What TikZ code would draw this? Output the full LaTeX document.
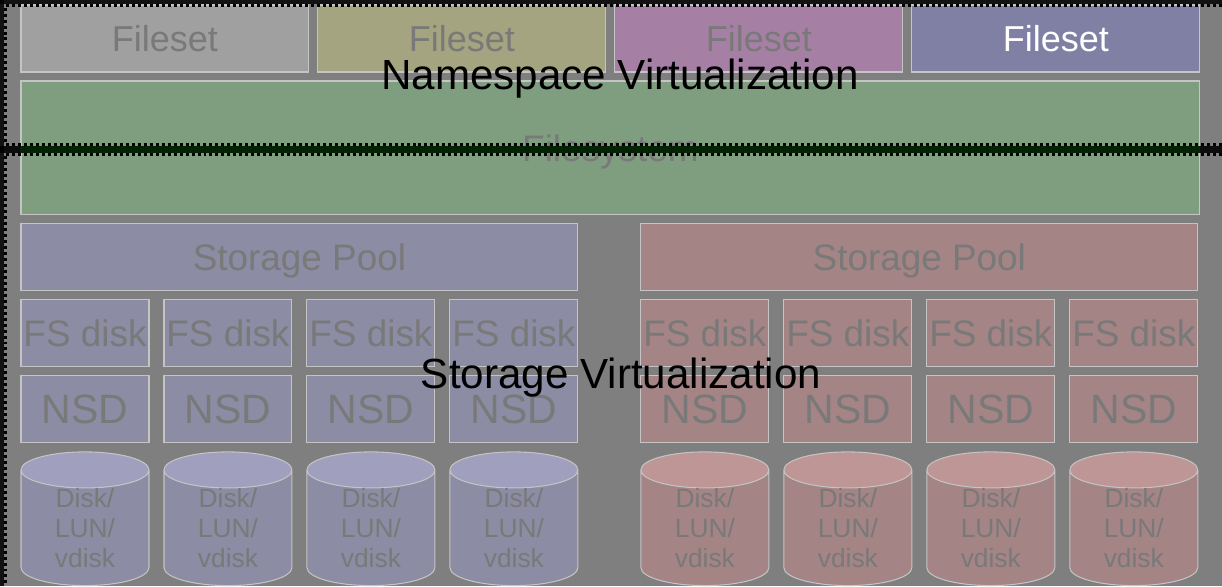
\documentclass[tikz,border=0pt]{standalone}
\usepackage{fontspec}
\setmainfont{Liberation Sans}
\usepackage{xcolor}
\usepackage{tikz}
\usetikzlibrary{shapes.geometric,positioning}

\definecolor{bggray}{RGB}{127,127,127}
\definecolor{ghost}{RGB}{121,121,121}
\definecolor{edgegray}{RGB}{196,196,196}
\definecolor{setgray}{RGB}{160,160,160}
\definecolor{setolive}{RGB}{164,164,128}
\definecolor{setmauve}{RGB}{166,128,164}
\definecolor{setblue}{RGB}{128,128,164}
\definecolor{fsgreen}{RGB}{127,158,127}
\definecolor{poolblue}{RGB}{140,140,164}
\definecolor{poolred}{RGB}{164,132,132}
\definecolor{lunbluetop}{RGB}{160,160,190}
\definecolor{lunredtop}{RGB}{190,150,150}
\definecolor{banddark}{RGB}{0,48,0}

\tikzset{
    box/.style={draw=edgegray, line width=0.6pt, rectangle, inner sep=0pt, outer sep=0pt, text=ghost, text depth=0pt},
    setbox/.style={box, minimum width=5.76cm, minimum height=1.34cm, font=\fontsize{20.5}{24}\selectfont},
    poolbox/.style={box, minimum width=11.14cm, minimum height=1.34cm, font=\fontsize{21}{25}\selectfont},
    fsdbox/.style={box, minimum width=2.56cm, minimum height=1.34cm, font=\fontsize{21}{25}\selectfont},
    nsdbox/.style={box, minimum width=2.56cm, minimum height=1.34cm, font=\fontsize{23.3}{27}\selectfont},
    lunbox/.style={cylinder, shape border rotate=90, aspect=0.6, draw=edgegray, line width=0.6pt,
        inner sep=0pt, outer sep=0pt, minimum width=2.56cm, minimum height=2.66cm, text=ghost,
        cylinder uses custom fill, align=center, font=\fontsize{15}{17}\selectfont},
    layerlabel/.style={anchor=base, inner sep=0pt, font=\fontsize{24}{28}\selectfont},
    frameline/.style={black, line width=1.7pt, dash pattern=on 1.7pt off 1.7pt}
}

\begin{document}
\begin{tikzpicture}[x=0.02cm, y=-0.02cm, node distance=0.18cm]
        \fill[bggray] (0,0) rectangle (1222,586);
        \useasboundingbox (0,0) rectangle (1222,586);

        % Namespace layer
        \node[setbox, fill=setgray, anchor=north west] (set1) at (21,5) {Fileset};
        \node[setbox, fill=setolive, right=of set1] (set2) {Fileset};
        \node[setbox, fill=setmauve, right=of set2] (set3) {Fileset};
        \node[setbox, fill=setblue, text=white, right=of set3] (set4) {Fileset};
        \node[box, fill=fsgreen, minimum width=23.58cm, minimum height=2.68cm, font=\fontsize{21}{25}\selectfont, below=of set1.south west, anchor=north west] (filesystem) {Filesystem};

        % Storage layer, left pool
        \node[poolbox, fill=poolblue, below=of filesystem.south west, anchor=north west] (poolA) {Storage Pool};
        \node[fsdbox, fill=poolblue, below=of poolA.south west, anchor=north west] (fsdA1) {FS disk};
        \node[fsdbox, fill=poolblue, right=0.3cm of fsdA1] (fsdA2) {FS disk};
        \node[fsdbox, fill=poolblue, right=0.3cm of fsdA2] (fsdA3) {FS disk};
        \node[fsdbox, fill=poolblue, right=0.3cm of fsdA3] (fsdA4) {FS disk};
        \node[nsdbox, fill=poolblue, below=of fsdA1] (nsdA1) {NSD};
        \node[nsdbox, fill=poolblue, below=of fsdA2] (nsdA2) {NSD};
        \node[nsdbox, fill=poolblue, below=of fsdA3] (nsdA3) {NSD};
        \node[nsdbox, fill=poolblue, below=of fsdA4] (nsdA4) {NSD};
        \node[lunbox, cylinder end fill=lunbluetop, cylinder body fill=poolblue, below=of nsdA1] (lunA1) {Disk/\\LUN/\\vdisk};
        \node[lunbox, cylinder end fill=lunbluetop, cylinder body fill=poolblue, below=of nsdA2] (lunA2) {Disk/\\LUN/\\vdisk};
        \node[lunbox, cylinder end fill=lunbluetop, cylinder body fill=poolblue, below=of nsdA3] (lunA3) {Disk/\\LUN/\\vdisk};
        \node[lunbox, cylinder end fill=lunbluetop, cylinder body fill=poolblue, below=of nsdA4] (lunA4) {Disk/\\LUN/\\vdisk};

        % Storage layer, right pool
        \node[poolbox, fill=poolred, below=of filesystem.south east, anchor=north east, xshift=-0.04cm] (poolB) {Storage Pool};
        \node[fsdbox, fill=poolred, below=of poolB.south west, anchor=north west] (fsdB1) {FS disk};
        \node[fsdbox, fill=poolred, right=0.3cm of fsdB1] (fsdB2) {FS disk};
        \node[fsdbox, fill=poolred, right=0.3cm of fsdB2] (fsdB3) {FS disk};
        \node[fsdbox, fill=poolred, right=0.3cm of fsdB3] (fsdB4) {FS disk};
        \node[nsdbox, fill=poolred, below=of fsdB1] (nsdB1) {NSD};
        \node[nsdbox, fill=poolred, below=of fsdB2] (nsdB2) {NSD};
        \node[nsdbox, fill=poolred, below=of fsdB3] (nsdB3) {NSD};
        \node[nsdbox, fill=poolred, below=of fsdB4] (nsdB4) {NSD};
        \node[lunbox, cylinder end fill=lunredtop, cylinder body fill=poolred, below=of nsdB1] (lunB1) {Disk/\\LUN/\\vdisk};
        \node[lunbox, cylinder end fill=lunredtop, cylinder body fill=poolred, below=of nsdB2] (lunB2) {Disk/\\LUN/\\vdisk};
        \node[lunbox, cylinder end fill=lunredtop, cylinder body fill=poolred, below=of nsdB3] (lunB3) {Disk/\\LUN/\\vdisk};
        \node[lunbox, cylinder end fill=lunredtop, cylinder body fill=poolred, below=of nsdB4] (lunB4) {Disk/\\LUN/\\vdisk};

        % Frames
        \fill[black, opacity=0.85] (0,0) rectangle (1222,4);
        \fill[black, opacity=0.85] (0,0) rectangle (4,586);
        \fill[black, opacity=0.9] (0,145.5) rectangle (1222,153);
        \fill[banddark, opacity=0.6] (filesystem.west |- 0,145.5) rectangle (filesystem.east |- 0,153);
        \draw[frameline] (1222,5.5) -- (5.5,5.5) -- (5.5,144.2) -- (1222,144.2);
        \draw[frameline] (1222,154.2) -- (5.5,154.2) -- (5.5,586);

        % Labels
        \node[layerlabel] (nslabel) at (620,89) {Namespace Virtualization};
        \node[layerlabel] (stlabel) at (621,388) {Storage Virtualization};
\end{tikzpicture}
\end{document}
